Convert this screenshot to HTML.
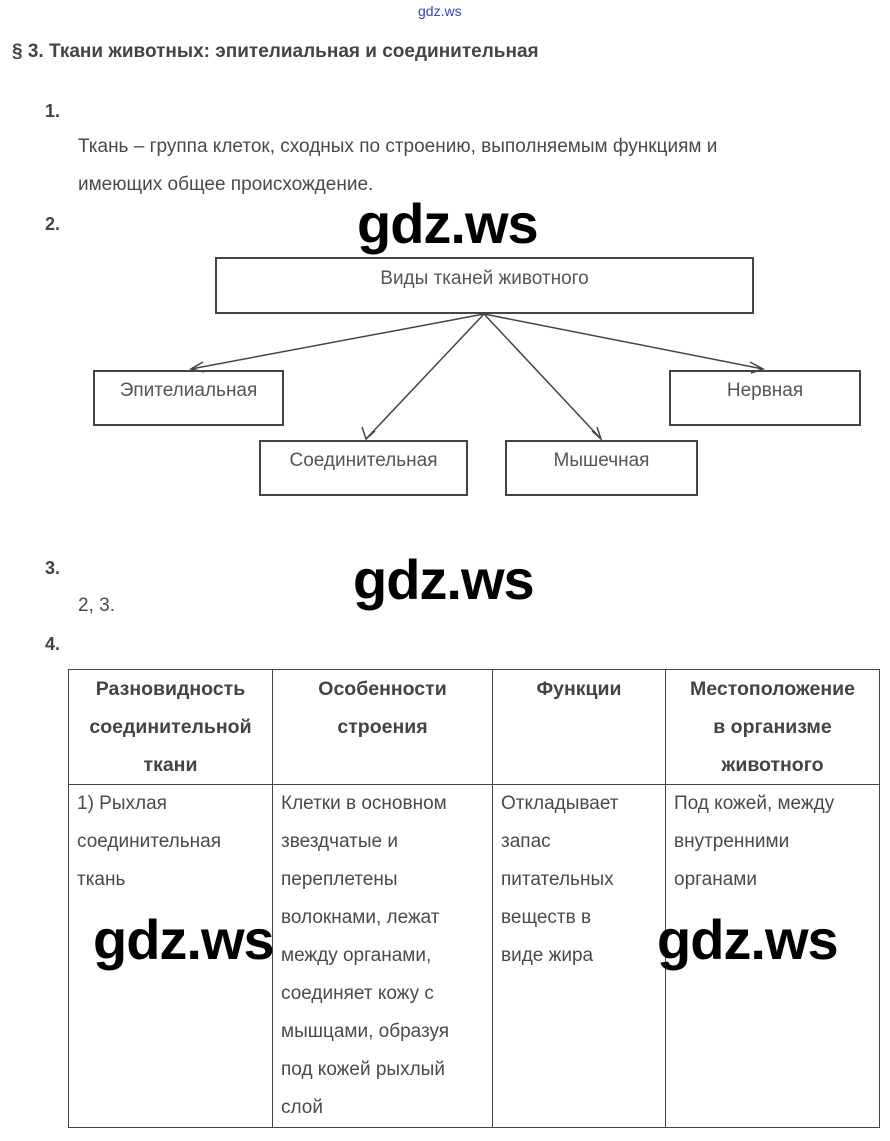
<!DOCTYPE html>
<html><head><meta charset="utf-8"><style>
body{margin:0;width:890px;height:1141px;background:#fff;position:relative;overflow:hidden;font-family:"Liberation Sans",sans-serif;color:#4a4a4a}
.a{position:absolute;white-space:nowrap}
.n{font-weight:bold;font-size:18px;color:#444}
.t{font-size:19px}
.wm{position:absolute;font-family:"Liberation Sans",sans-serif;font-weight:bold;font-size:56px;color:#000;letter-spacing:-1px;line-height:1}
.box{position:absolute;border:2px solid #444;box-sizing:border-box;text-align:center;font-size:19px;color:#555}
table{position:absolute;left:68px;top:669px;width:811px;table-layout:fixed;border-collapse:collapse;font-size:19px;line-height:38px}
td{border:1.5px solid #444;vertical-align:top;padding:0 8px;overflow:hidden}
th{border:1.5px solid #444;vertical-align:top;padding:0 4px;font-weight:bold;color:#444;font-size:19.5px;line-height:38px}
</style></head><body>
<div class="a" style="left:418px;top:3px;font-size:14px;color:#3b3bd6">gdz.ws</div>
<div class="a" style="left:12px;top:41px;font-size:19px;font-weight:bold;color:#444">§ 3. Ткани животных: эпителиальная и соединительная</div>
<div class="a n" style="left:45px;top:101px">1.</div>
<div class="a t" style="left:78px;top:136px">Ткань – группа клеток, сходных по строению, выполняемым функциям и</div>
<div class="a t" style="left:78px;top:174px">имеющих общее происхождение.</div>
<div class="a n" style="left:45px;top:214px">2.</div>
<div class="wm" style="left:357px;top:196px">gdz.ws</div>
<div class="box" style="left:215px;top:257px;width:539px;height:57px;padding-top:9px">Виды тканей животного</div>
<div class="box" style="left:93px;top:370px;width:191px;height:56px;padding-top:8px">Эпителиальная</div>
<div class="box" style="left:669px;top:370px;width:192px;height:56px;padding-top:8px">Нервная</div>
<div class="box" style="left:259px;top:440px;width:209px;height:56px;padding-top:8px">Соединительная</div>
<div class="box" style="left:505px;top:440px;width:193px;height:56px;padding-top:8px">Мышечная</div>
<svg class="a" style="left:0;top:0" width="890" height="520">
<g stroke="#444" stroke-width="1.5" fill="none">
<line x1="484" y1="314" x2="191" y2="369"/><line x1="484" y1="314" x2="366" y2="439"/><line x1="484" y1="314" x2="601" y2="439"/><line x1="484" y1="314" x2="763" y2="369"/>
<polyline points="203,362 191,369 204,372"/><polyline points="362,427 366,439 375,431"/><polyline points="592,431 601,439 597,427"/><polyline points="750,362 763,369 751,373"/>
</g></svg>
<div class="a n" style="left:45px;top:558px">3.</div>
<div class="wm" style="left:353px;top:552px">gdz.ws</div>
<div class="a t" style="left:78px;top:595px">2, 3.</div>
<div class="a n" style="left:45px;top:634px">4.</div>
<table>
<colgroup><col style="width:204px"><col style="width:220px"><col style="width:173px"><col style="width:214px"></colgroup>
<tr style="height:114px"><th>Разновидность соединительной ткани</th><th>Особенности строения</th><th>Функции</th><th>Местоположение<br>в организме<br>животного</th></tr>
<tr style="height:342px"><td style="padding-top:0">1) Рыхлая<br>соединительная<br>ткань</td><td>Клетки в основном звездчатые и переплетены волокнами, лежат между органами, соединяет кожу с мышцами, образуя под кожей рыхлый слой</td><td>Откладывает<br>запас<br>питательных<br>веществ в<br>виде жира</td><td>Под кожей, между<br>внутренними<br>органами</td></tr>
</table>
<div class="wm" style="left:93px;top:912px">gdz.ws</div>
<div class="wm" style="left:657px;top:912px">gdz.ws</div>
</body></html>
